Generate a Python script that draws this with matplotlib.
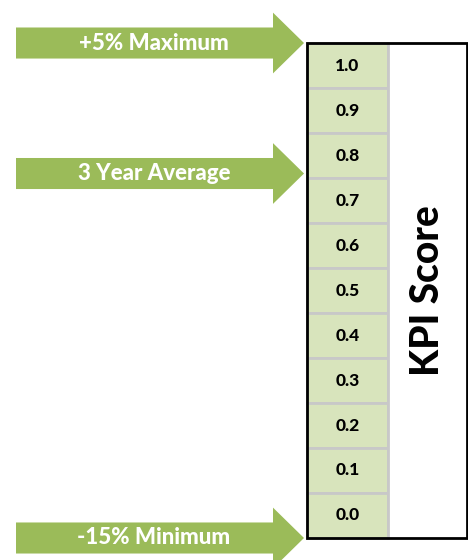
#!/usr/bin/env python3

import matplotlib
matplotlib.use("Agg")
import matplotlib.pyplot as plt
from matplotlib.patches import FancyArrow, Rectangle

# scale values shown in the column
scores = [1.0, 0.9, 0.8, 0.7, 0.6, 0.5, 0.4, 0.3, 0.2, 0.1, 0.0]
# arrow labels and the score they point at
arrow_labels = ["+5% Maximum", "3 Year Average", "-15% Minimum"]
arrow_targets = [1.05, 0.76, -0.05]
title = "KPI Score"

GREEN = "#9BBB59"
CELL = "#D8E4BC"
GRID = "#C8C8C8"

fig = plt.figure(figsize=(4.68, 5.6), dpi=100)
ax = fig.add_axes([0, 0, 1, 1])
# x in pixels, y in score units
ax.set_xlim(0, 468)
ax.set_ylim(-0.0989, 1.1456)
ax.axis("off")

step = 0.1
col_left, col_w = 307, 81
side_w = 79

# green cells
ax.barh(scores, col_w, left=col_left, height=step, color=CELL,
        edgecolor=GRID, linewidth=2, zorder=1)
for s in scores:
    ax.text(col_left + col_w / 2, s, f"{s:.1f}", ha="center", va="center",
            fontsize=12.5, fontweight=900, family="Lato", color="black", zorder=3)

top = max(scores) + step / 2
bottom = min(scores) - step / 2
ax.add_patch(Rectangle((col_left + col_w, bottom), side_w, top - bottom,
                       facecolor="white", edgecolor="none", zorder=1))
ax.plot([col_left + col_w] * 2, [bottom, top], color=GRID, lw=2, zorder=2)
ax.add_patch(Rectangle((col_left, bottom), col_w + side_w, top - bottom,
                       facecolor="none", edgecolor="black", linewidth=2, zorder=4))

ax.text(col_left + col_w + side_w / 2, (top + bottom) / 2, title, rotation=90,
        ha="center", va="center", fontsize=28, fontweight=900,
        family="Lato", color="black", zorder=3)

# arrows
for lab, t in zip(arrow_labels, arrow_targets):
    x0, tip = 16, 304
    ax.add_patch(FancyArrow(x0, t, tip - x0, 0, width=0.069, head_width=0.135,
                            head_length=31, length_includes_head=True,
                            color=GREEN, lw=0, zorder=2))
    ax.text(154, t, lab, ha="center", va="center", fontsize=16,
            fontweight=900, family="Lato", color="white", zorder=3)

fig.savefig("out.png", dpi=100)
